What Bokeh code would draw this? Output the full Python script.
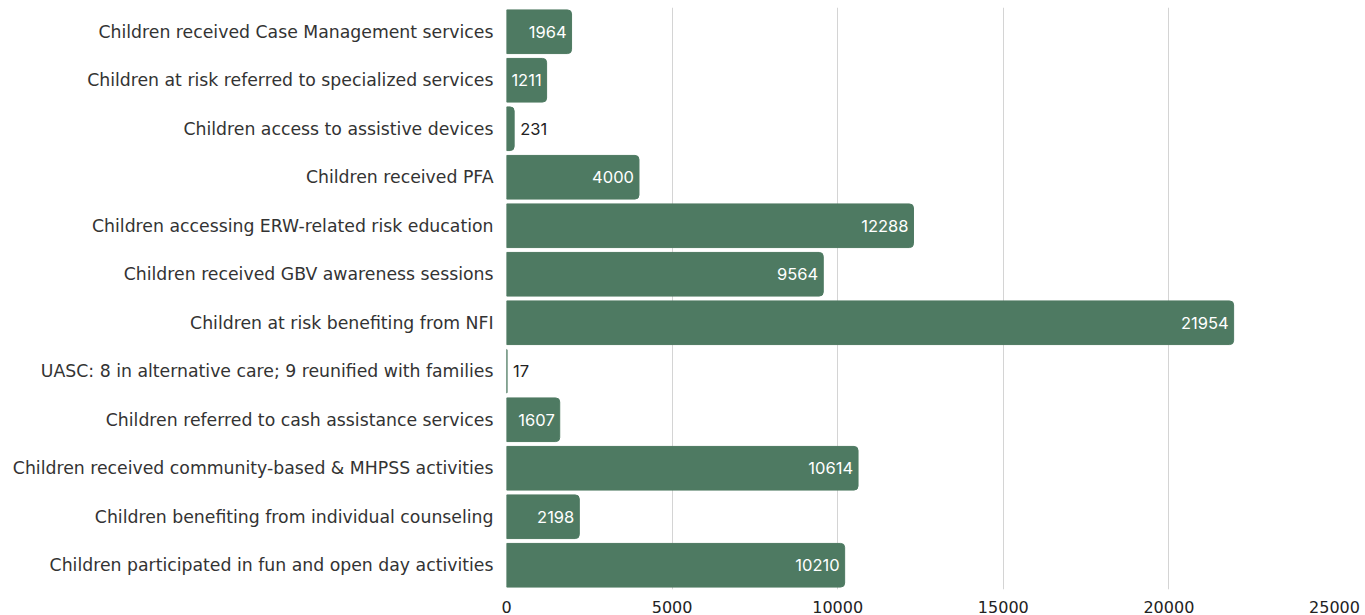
from bokeh.plotting import figure
from bokeh.models import ColumnDataSource, FactorRange, Range1d
from bokeh.core.properties import value
from bokeh.embed import file_html
from bokeh.resources import INLINE

categories = [
    "Children received Case Management services",
    "Children at risk referred to specialized services",
    "Children access to assistive devices",
    "Children received PFA",
    "Children accessing ERW-related risk education",
    "Children received GBV awareness sessions",
    "Children at risk benefiting from NFI",
    "UASC: 8 in alternative care; 9 reunified with families",
    "Children referred to cash assistance services",
    "Children received community-based & MHPSS activities",
    "Children benefiting from individual counseling",
    "Children participated in fun and open day activities",
]
values = [1964, 1211, 231, 4000, 12288, 9564, 21954, 17, 1607, 10614, 2198, 10210]
x_ticks = [0, 5000, 10000, 15000, 20000, 25000]

FONT = "DejaVu Sans"
NUM_FONT = "Inter"
BAR = "#4e7a62"

labels = [str(v) for v in values]
inside = [v >= 1000 for v in values]

src = ColumnDataSource(dict(cat=categories, val=values, lab=labels))
src_in = ColumnDataSource(dict(
    cat=[c for c, i in zip(categories, inside) if i],
    val=[v for v, i in zip(values, inside) if i],
    lab=[l for l, i in zip(labels, inside) if i],
))
src_out = ColumnDataSource(dict(
    cat=[c for c, i in zip(categories, inside) if not i],
    val=[v for v, i in zip(values, inside) if not i],
    lab=[l for l, i in zip(labels, inside) if not i],
))

p = figure(
    width=1365, height=615,
    y_range=FactorRange(factors=categories[::-1], range_padding=0),
    x_range=Range1d(0, 25000),
    output_backend="svg", toolbar_location=None,
    min_border_left=506, min_border_right=31, min_border_top=7, min_border_bottom=23,
)
p.outline_line_color = None
p.background_fill_color = "white"
p.border_fill_color = "white"

p.hbar(y="cat", right="val", left=0, height=0.9, source=src,
       fill_color=BAR, line_color=BAR, border_radius=(0, 4, 4, 0))

p.text(x="val", y="cat", text="lab", source=src_in, x_offset=-5,
       text_align="right", text_baseline="middle", text_color="white",
       text_font=value(NUM_FONT), text_font_size="16.5px")
p.text(x="val", y="cat", text="lab", source=src_out, x_offset=6,
       text_align="left", text_baseline="middle", text_color="#222222",
       text_font=value(NUM_FONT), text_font_size="16.5px")

p.xaxis.ticker = x_ticks
p.xaxis.axis_line_color = None
p.xaxis.major_tick_line_color = None
p.xaxis.minor_tick_line_color = None
p.xaxis.major_label_standoff = 5
p.xaxis.major_label_text_font = FONT
p.xaxis.major_label_text_font_size = "16px"
p.xaxis.major_label_text_color = "#222222"

p.yaxis.axis_line_color = None
p.yaxis.major_tick_line_color = None
p.yaxis.minor_tick_line_color = None
p.yaxis.major_label_standoff = 7
p.yaxis.major_label_text_font = FONT
p.yaxis.major_label_text_font_size = "17.3px"
p.yaxis.major_label_text_color = "#333333"

p.ygrid.grid_line_color = None
p.xgrid.grid_line_color = "#d4d4d4"
p.xgrid.grid_line_width = 1
p.xgrid.ticker = x_ticks

open("out.html", "w").write(file_html(p, INLINE))
